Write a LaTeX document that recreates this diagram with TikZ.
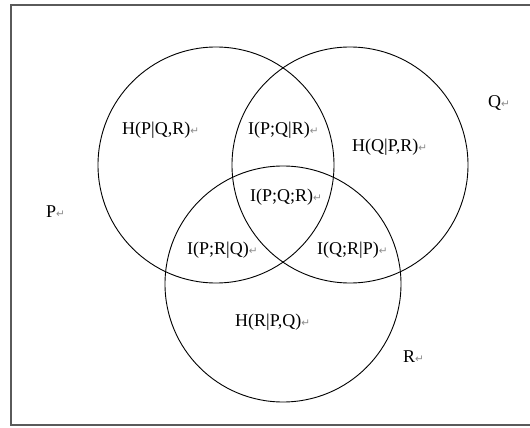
\documentclass[tikz,border=0pt]{standalone}
\usepackage{fontspec}
\setmainfont{Liberation Serif}
\newfontfamily\markfont{DejaVu Sans}
\usepackage{xcolor}
\usetikzlibrary{positioning}
\definecolor{framegray}{RGB}{90, 90, 90}
\definecolor{markgray}{RGB}{140, 140, 140}
\newcommand{\retmark}{{\markfont\fontsize{10.5}{10.5}\selectfont\textcolor{markgray}{↵}}}

\begin{document}
\begin{tikzpicture}[x=1pt, y=-1pt,
  setcircle/.style={draw, circle, minimum size=236pt, inner sep=0pt, line width=0.9pt},
  every node/.style={font=\fontsize{18}{21}\selectfont},
  term/.style={anchor=west, inner sep=0pt}]
\useasboundingbox (0,0) rectangle (530,428);

% Frame
\begin{scope}
\clip (0,0) rectangle (530,428);
\draw[framegray, line width=1.4pt] (11,5) rectangle (545,425);
\end{scope}

% Sets
\node[setcircle] (setP) at (216,165) {};
\node[setcircle] (setQ) at (350,165) {};
\node[setcircle] (setR) at (283,284) {};

% Set names
\node[term] (nameP) at (46,212) {P\retmark};
\node[term] (nameQ) at (488,103) {Q\retmark};
\node[term] (nameR) at (403,357) {R\retmark};

% Regions
\node[term] (hPgQR) at (122,130) {H(P|Q,R)\retmark};
\node[term] (iPQgR) at (248,130) {I(P;Q|R)\retmark};
\node[term] (hQgPR) at (352,147) {H(Q|P,R)\retmark};
\node[term] (iPQR) at (250,197) {I(P;Q;R)\retmark};
\node[term] (iPRgQ) at (187,250) {I(P;R|Q)\retmark};
\node[term] (iQRgP) at (317,250) {I(Q;R|P)\retmark};
\node[term] (hRgPQ) at (235,322) {H(R|P,Q)\retmark};
\end{tikzpicture}
\end{document}
